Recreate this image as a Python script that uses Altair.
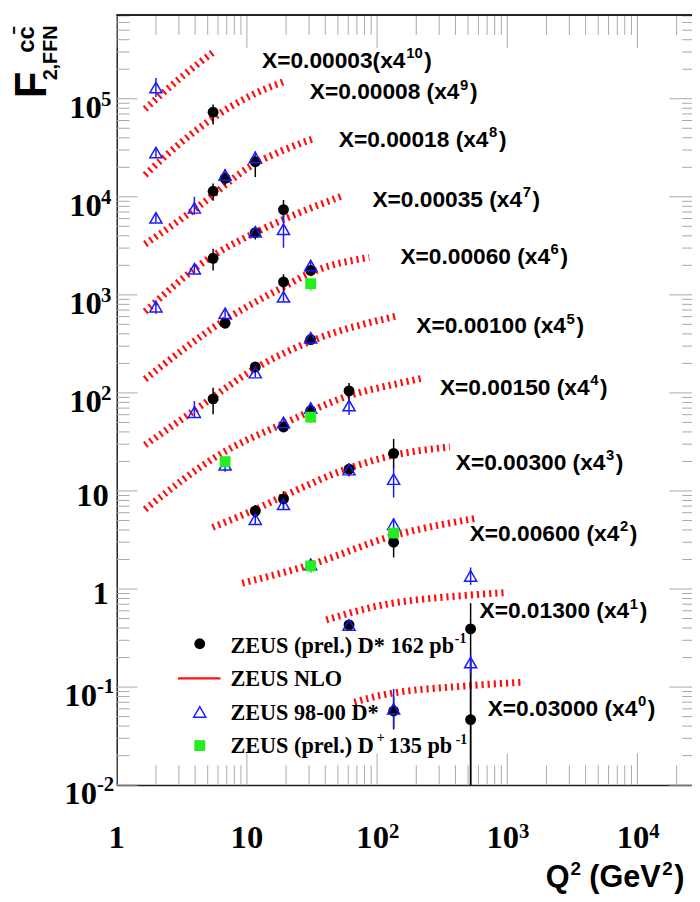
import altair as alt
import pandas as pd

# ---------------- data ----------------
bin_text = ["X=0.00003(x4", "X=0.00008 (x4", "X=0.00018 (x4", "X=0.00035 (x4",
            "X=0.00060 (x4", "X=0.00100 (x4", "X=0.00150 (x4", "X=0.00300 (x4",
            "X=0.00600 (x4", "X=0.01300 (x4", "X=0.03000 (x4"]
bin_power = ["10", "9", "8", "7", "6", "5", "4", "3", "2", "1", "0"]
# label anchors (Q2, F) next to each curve
label_q2 = [13.07, 30.4, 50.8, 92.1, 151, 200, 304, 402, 514, 612, 707]
label_f = [2.41e5, 1.157e5, 3.77e4, 9350, 2415, 475, 113, 19.3, 3.63, 0.59, 0.060]

# ZEUS NLO curves, one per x bin
nlo_q2 = [
    [1.65, 3.05, 5.6],
    [1.65, 3.05, 5.6, 10.6, 19.6],
    [1.65, 3.95, 11.6, 19.1, 32.3],
    [1.65, 5.5, 11.6, 19.1, 53.0],
    [1.65, 6.8, 19.1, 30.9, 87.0],
    [1.65, 3.95, 11.6, 30.9, 138.0],
    [1.65, 6.7, 19.1, 61.0, 138.0, 226.0],
    [5.45, 11.6, 19.1, 61.0, 138.0, 362.0],
    [9.2, 30.0, 134.0, 578.0],
    [40.7, 97.5, 523.0, 947.0],
    [66.8, 97.5, 520.0, 1268.0],
]
nlo_f = [
    [7.85e4, 1.61e5, 3.04e5],
    [1.67e4, 3.49e4, 6.47e4, 1.07e5, 1.51e5],
    [3290, 7410, 21900, 29900, 39200],
    [675, 2510, 4310, 5870, 10100],
    [138, 556, 1205, 1680, 2415],
    [29.4, 66.2, 178, 336, 603],
    [6.49, 25.1, 48.6, 93.8, 123, 142],
    [4.25, 6.49, 8.85, 17.1, 23.3, 28.1],
    [1.15, 1.75, 3.5, 5.27],
    [0.485, 0.664, 0.869, 0.918],
    [0.0703, 0.0802, 0.1035, 0.1117],
]

# ZEUS (prel.) D* 162 pb-1
dstar_q2 = [5.5, 5.5, 6.8, 11.6, 5.5, 11.6, 19.1, 6.8, 19.1, 30.9, 5.5, 11.6, 30.9,
            19.1, 30.9, 60.9, 11.6, 19.1, 60.9, 134, 134, 60.9, 523, 134, 523]
dstar_f = [7.3e4, 1.14e4, 1.54e4, 2.28e4, 2360, 4316, 7410, 514, 1352, 1775, 86.8, 184, 350,
           44.9, 66, 105, 6.24, 8.3, 16.7, 24.2, 3.0, 0.43, 0.392, 0.057, 0.0466]
dstar_elo = [0.25, 0.2, 0.15, 0.3, 0.25, 0.15, 0.22, 0.1, 0.2, 0.12, 0.3, 0.1, 0.1,
             0.1, 0.1, 0.2, 0.15, 0.2, 0.15, 0.3, 0.3, 0.1, 0.99, 0.35, 0.99]
dstar_ehi = [0.2, 0.2, 0.15, 0.15, 0.25, 0.15, 0.25, 0.1, 0.2, 0.12, 0.3, 0.1, 0.1,
             0.1, 0.1, 0.2, 0.15, 0.2, 0.15, 0.4, 0.3, 0.1, 0.83, 0.4, 3.0]

# ZEUS 98-00 D*
old_q2 = [2.0, 2.0, 2.0, 3.95, 6.8, 11.6, 2.0, 3.95, 11.6, 19.1, 6.8, 19.1, 30.9, 3.95, 11.6,
          30.9, 6.8, 19.1, 30.9, 60.9, 11.6, 19.1, 60.9, 134, 30.9, 134, 60.9, 523, 134, 523]
old_f = [1.3e5, 2.83e4, 6110, 7710, 1.67e4, 2.52e4, 757, 1842, 4400, 4660, 648, 955, 1990, 63.6,
         161, 365, 18.5, 50, 70, 74.3, 5.15, 7.3, 16.5, 13.2, 1.78, 4.58, 0.43, 1.36, 0.06, 0.178]
old_elo = [0.2, 0.1, 0.1, 0.15, 0.15, 0.15, 0.15, 0.1, 0.1, 0.35, 0.1, 0.12, 0.12, 0.12, 0.1,
           0.1, 0.15, 0.1, 0.1, 0.2, 0.12, 0.12, 0.15, 0.35, 0.15, 0.15, 0.12, 0.19, 0.35, 0.24]
old_ehi = [0.25, 0.1, 0.1, 0.3, 0.15, 0.15, 0.15, 0.1, 0.1, 0.4, 0.1, 0.12, 0.12, 0.3, 0.1,
           0.1, 0.15, 0.1, 0.1, 0.2, 0.12, 0.12, 0.15, 0.35, 0.15, 0.15, 0.12, 0.22, 0.6, 0.21]

# ZEUS (prel.) D+ 135 pb-1
dplus_q2 = [30.9, 6.8, 30.9, 30.9, 134]
dplus_f = [1300, 19.9, 56.6, 1.72, 3.72]
dplus_elo = [0.15, 0.12, 0.12, 0.15, 0.12]
dplus_ehi = [0.05, 0.05, 0.05, 0.05, 0.05]

# legend texts
leg1 = "ZEUS (prel.) D* 162 pb"
leg2 = "ZEUS NLO"
leg3 = "ZEUS 98-00 D*"
leg4a, leg4b = "ZEUS (prel.) D", "135 pb"

# axis tick labels
x_plain = [1, 10]
x_plain_text = ["1", "10"]
x_exp = [100, 1000, 10000]
x_exp_text = ["2", "3", "4"]
y_plain = [1, 10]
y_plain_text = ["1", "10"]
y_pos = [100, 1e3, 1e4, 1e5]
y_pos_text = ["2", "3", "4", "5"]
y_neg = [0.01, 0.1]
y_neg_text = ["-2", "-1"]

# ---------------- layout ----------------
W, H = 582, 779
XMAX = 10 ** (W / 131.7)
YMIN, YMAX = 0.01, 10 ** (H / 99.2 - 2)

xscale = alt.Scale(type="log", domain=[1, XMAX], nice=False)
yscale = alt.Scale(type="log", domain=[YMIN, YMAX], nice=False)

xaxis = alt.Axis(labels=False, ticks=False, grid=False, domain=True, domainColor="#222",
                 domainWidth=1.5, title=None)
yaxis = alt.Axis(labels=False, ticks=False, grid=False, domain=True, domainColor="#222",
                 domainWidth=1.5, title=None)


def X(field="q2"):
    return alt.X(f"{field}:Q", scale=xscale, axis=xaxis)


def Y(field="f"):
    return alt.Y(f"{field}:Q", scale=yscale, axis=yaxis)


# ---------------- tables ----------------
curve_rows = []
for i, (qs, fs) in enumerate(zip(nlo_q2, nlo_f)):
    for q, f in zip(qs, fs):
        curve_rows.append({"row": i, "q2": q, "f": f})
curves = pd.DataFrame(curve_rows)


def pts(qs, fs, elo, ehi):
    return pd.DataFrame({"q2": qs, "f": fs,
                         "lo": [f * (1 - e) for f, e in zip(fs, elo)],
                         "hi": [f * (1 + e) for f, e in zip(fs, ehi)]})


dstar = pts(dstar_q2, dstar_f, dstar_elo, dstar_ehi)
old = pts(old_q2, old_f, old_elo, old_ehi)
dplus = pts(dplus_q2, dplus_f, dplus_elo, dplus_ehi)

labels = pd.DataFrame({"q2": label_q2, "f": label_f, "text": bin_text, "p": bin_power})

xt_major = pd.DataFrame({"q2": [1, 10, 100, 1000, 10000]})
xt_minor = pd.DataFrame({"q2": [m * 10 ** k for k in range(0, 5) for m in range(2, 10)
                                 if m * 10 ** k < XMAX]})
yt_major = pd.DataFrame({"f": [0.01, 0.1, 1, 10, 100, 1e3, 1e4, 1e5]})
yt_minor = pd.DataFrame({"f": [m * 10.0 ** k for k in range(-2, 6) for m in range(2, 10)
                                if m * 10.0 ** k < YMAX]})

BLUE = "#1a1aff"
GREEN = "#22ee22"
RED = "#ff1010"
SERIF = "Liberation Serif"
SANS = "Liberation Sans"

# ---------------- layers ----------------
tick_col = "#a8a8a8"
layers = [
    alt.Chart(xt_major).mark_rule(color=tick_col).encode(x=X(), y=alt.value(H), y2=alt.value(H - 32)),
    alt.Chart(xt_minor).mark_rule(color=tick_col).encode(x=X(), y=alt.value(H), y2=alt.value(H - 20)),
    alt.Chart(xt_major).mark_rule(color=tick_col).encode(x=X(), y=alt.value(0), y2=alt.value(33)),
    alt.Chart(xt_minor).mark_rule(color=tick_col).encode(x=X(), y=alt.value(0), y2=alt.value(20)),
    alt.Chart(yt_major).mark_rule(color=tick_col).encode(y=Y(), x=alt.value(0), x2=alt.value(21)),
    alt.Chart(yt_minor).mark_rule(color=tick_col).encode(y=Y(), x=alt.value(0), x2=alt.value(13)),
    alt.Chart(yt_major).mark_rule(color=tick_col).encode(y=Y(), x=alt.value(W), x2=alt.value(W - 23)),
    alt.Chart(yt_minor).mark_rule(color=tick_col).encode(y=Y(), x=alt.value(W), x2=alt.value(W - 10)),
    alt.Chart(xt_major).mark_rule(color="#222", strokeWidth=1.5).encode(
        x=alt.value(0), x2=alt.value(W), y=alt.value(0)),
]

# NLO curves
layers.append(alt.Chart(curves).mark_line(
    color=RED, strokeWidth=7, strokeDash=[2.2, 4], interpolate="monotone", clip=True
).encode(x=X(), y=Y(), detail="row:N"))

# error bars + markers
for df, col in [(dstar, "black"), (old, BLUE), (dplus, GREEN)]:
    layers.append(alt.Chart(df).mark_rule(color=col, strokeWidth=1.5, clip=True).encode(
        x=X(), y=Y("lo"), y2="hi:Q"))
layers.append(alt.Chart(dstar).mark_point(shape="circle", filled=True, color="black",
                                          size=121, opacity=1).encode(x=X(), y=Y()))
layers.append(alt.Chart(old).mark_point(shape="triangle-up", filled=False, color=BLUE,
                                        strokeWidth=1.5, size=150, opacity=1).encode(x=X(), y=Y()))
layers.append(alt.Chart(dplus).mark_point(shape="square", filled=True, color=GREEN,
                                          size=121, opacity=1).encode(x=X(), y=Y()))

# bin labels: main text, superscript power, closing parenthesis
lab_main = labels.iloc[1:]
lab_first = labels.iloc[:1]
for df, dxp, dxc in [(lab_main, 152, 162), (lab_first, 146, 164)]:
    layers.append(alt.Chart(df).mark_text(align="left", baseline="middle", font=SANS,
                                          fontWeight="bold", fontSize=23, color="black"
                                          ).encode(x=X(), y=Y(), text="text:N"))
    layers.append(alt.Chart(df).mark_text(align="left", baseline="middle", font=SANS,
                                          fontWeight="bold", fontSize=15, color="black",
                                          dx=dxp, dy=-8).encode(x=X(), y=Y(), text="p:N"))
    layers.append(alt.Chart(df).mark_text(align="left", baseline="middle", font=SANS,
                                          fontWeight="bold", fontSize=23, color="black",
                                          dx=dxc, text=")").encode(x=X(), y=Y()))

# axis tick labels
AX = dict(font=SERIF, fontWeight="bold", color="black", baseline="middle")
layers += [
    alt.Chart(pd.DataFrame({"q2": x_plain, "t": x_plain_text})).mark_text(
        align="center", fontSize=33, **AX).encode(x=X(), y=alt.value(H + 54), text="t:N"),
    alt.Chart(pd.DataFrame({"q2": x_exp})).mark_text(
        align="right", fontSize=33, dx=12, text="10", **AX).encode(x=X(), y=alt.value(H + 54)),
    alt.Chart(pd.DataFrame({"q2": x_exp, "t": x_exp_text})).mark_text(
        align="left", fontSize=21, dx=12, **AX).encode(x=X(), y=alt.value(H + 47), text="t:N"),
    alt.Chart(pd.DataFrame({"f": y_plain, "t": y_plain_text})).mark_text(
        align="right", fontSize=33, dy=5, **AX).encode(y=Y(), x=alt.value(-8), text="t:N"),
    alt.Chart(pd.DataFrame({"f": y_pos})).mark_text(
        align="right", fontSize=33, dy=9, text="10", **AX).encode(y=Y(), x=alt.value(-15)),
    alt.Chart(pd.DataFrame({"f": y_pos, "t": y_pos_text})).mark_text(
        align="left", fontSize=21, dy=1, **AX).encode(y=Y(), x=alt.value(-16), text="t:N"),
    alt.Chart(pd.DataFrame({"f": y_neg})).mark_text(
        align="right", fontSize=33, dy=9, text="10", **AX).encode(y=Y(), x=alt.value(-20)),
    alt.Chart(pd.DataFrame({"f": y_neg, "t": y_neg_text})).mark_text(
        align="left", fontSize=21, dy=0, **AX).encode(y=Y(), x=alt.value(-20), text="t:N"),
]

# axis titles
one = pd.DataFrame({"k": [0]})
TS = dict(font=SANS, fontWeight="bold", color="black", baseline="middle", align="left")
layers += [
    alt.Chart(one).mark_text(text="Q", fontSize=31, **TS).encode(x=alt.value(434), y=alt.value(873)),
    alt.Chart(one).mark_text(text="2", fontSize=19, **TS).encode(x=alt.value(459), y=alt.value(864)),
    alt.Chart(one).mark_text(text="(GeV", fontSize=31, **TS).encode(x=alt.value(478), y=alt.value(873)),
    alt.Chart(one).mark_text(text="2", fontSize=19, **TS).encode(x=alt.value(552), y=alt.value(864)),
    alt.Chart(one).mark_text(text=")", fontSize=31, **TS).encode(x=alt.value(564), y=alt.value(873)),
]
RT = dict(font=SANS, fontWeight="bold", color="black", baseline="alphabetic", align="left", angle=270)
layers += [
    alt.Chart(one).mark_text(text="F", fontSize=44, **RT).encode(x=alt.value(-72), y=alt.value(84)),
    alt.Chart(one).mark_text(text="cc̄", fontSize=24, **RT).encode(x=alt.value(-84), y=alt.value(38)),
    alt.Chart(one).mark_text(text="2,FFN", fontSize=20, **RT).encode(x=alt.value(-60), y=alt.value(66)),
]

# legend (drawn inside the frame, lower left)
LT = dict(font=SERIF, fontWeight="bold", color="black", baseline="middle", align="left")
layers += [
    alt.Chart(one).mark_point(shape="circle", filled=True, color="black", size=121, opacity=1
                              ).encode(x=alt.value(84), y=alt.value(636)),
    alt.Chart(one).mark_rule(color=RED, strokeWidth=2.5).encode(
        x=alt.value(62), x2=alt.value(105), y=alt.value(671)),
    alt.Chart(one).mark_point(shape="triangle-up", filled=False, color=BLUE, strokeWidth=1.5,
                              size=150, opacity=1).encode(x=alt.value(84), y=alt.value(705)),
    alt.Chart(one).mark_point(shape="square", filled=True, color=GREEN, size=121, opacity=1
                              ).encode(x=alt.value(84), y=alt.value(739)),
    alt.Chart(one).mark_text(text=leg1, fontSize=22.5, **LT).encode(x=alt.value(115), y=alt.value(638)),
    alt.Chart(one).mark_text(text="-1", fontSize=14, **LT).encode(x=alt.value(342), y=alt.value(631)),
    alt.Chart(one).mark_text(text=leg2, fontSize=22.5, **LT).encode(x=alt.value(115), y=alt.value(672)),
    alt.Chart(one).mark_text(text=leg3, fontSize=22.5, **LT).encode(x=alt.value(115), y=alt.value(706)),
    alt.Chart(one).mark_text(text=leg4a, fontSize=22.5, **LT).encode(x=alt.value(115), y=alt.value(740)),
    alt.Chart(one).mark_text(text="+", fontSize=14, **LT).encode(x=alt.value(263), y=alt.value(731)),
    alt.Chart(one).mark_text(text=leg4b, fontSize=22.5, **LT).encode(x=alt.value(275), y=alt.value(740)),
    alt.Chart(one).mark_text(text="-1", fontSize=14, **LT).encode(x=alt.value(343), y=alt.value(733)),
]

chart = alt.layer(*layers).properties(
    width=W, height=H,
    autosize=alt.AutoSizeParams(type="none"),
    padding={"left": 110, "top": 2, "right": 0, "bottom": 110},
    background="white",
).configure_view(stroke=None)

chart.save("out.html", embed_options={"renderer": "svg", "actions": False})
